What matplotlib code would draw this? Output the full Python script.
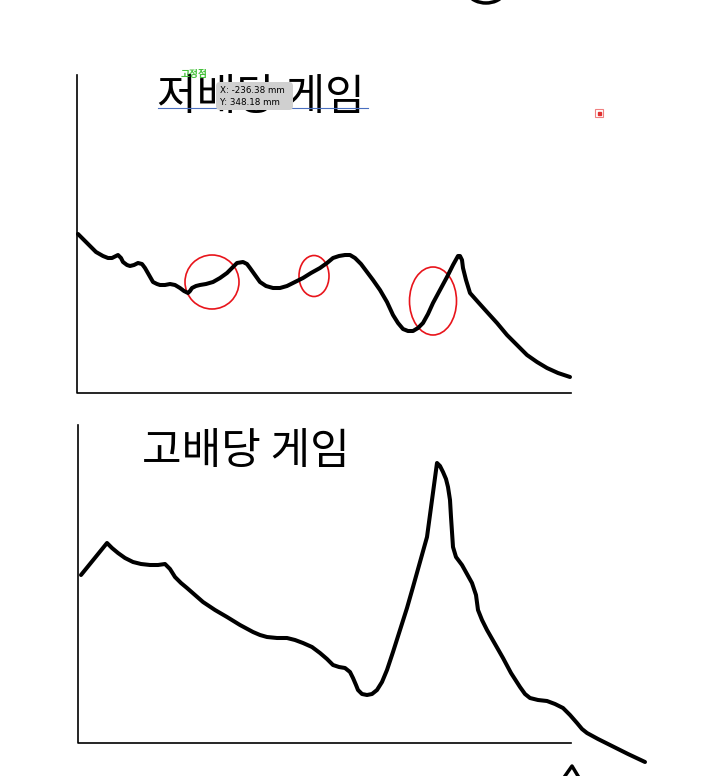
import matplotlib.pyplot as plt
import matplotlib.patches as mpatches
from matplotlib.patches import FancyBboxPatch

plt.rcParams['font.family'] = ['Noto Sans CJK KR', 'DejaVu Sans']

# traced sketch curves (pixel coords, y grows downward)
low_x = [78, 84, 90, 96, 103, 108, 112, 118, 121, 123, 127, 130, 134, 138, 142, 145,
         149, 153, 157, 160, 165, 170, 175, 180, 184, 188, 190, 192, 196, 200, 206,
         213, 220, 227, 232, 237, 243, 247, 250, 255, 260, 266, 273, 280, 287, 295,
         303, 311, 320, 327, 333, 339, 345, 350, 355, 361, 367, 373, 380, 387, 393,
         398, 403, 408, 413, 418, 423, 428, 433, 440, 447, 453, 458, 460, 462, 463,
         466, 470, 478, 487, 497, 507, 517, 527, 537, 547, 558, 570]
low_y = [234, 240, 246, 252, 256, 258, 258, 255, 258, 262, 265, 266, 265, 263, 264, 268,
         275, 282, 284, 285, 285, 284, 285, 288, 291, 293, 291, 288, 286, 285, 284,
         282, 278, 273, 268, 263, 262, 264, 268, 275, 282, 286, 288, 288, 286, 282,
         278, 273, 268, 263, 258, 256, 255, 255, 258, 264, 272, 280, 290, 302, 315,
         323, 329, 331, 331, 328, 323, 314, 303, 290, 277, 265, 256, 256, 260, 268,
         280, 293, 302, 312, 323, 335, 345, 355, 362, 368, 373, 377]

high_x = [81, 94, 107, 112, 118, 125, 133, 141, 150, 158, 165, 170, 175, 181, 187, 195,
          203, 215, 227, 240, 253, 260, 267, 277, 287, 295, 303, 312, 320, 327, 333,
          339, 345, 350, 353, 356, 358, 362, 367, 372, 377, 382, 387, 393, 400, 407,
          413, 420, 427, 432, 437, 440, 443, 446, 448, 450, 451, 452, 453, 456, 462,
          467, 472, 476, 478, 482, 487, 495, 503, 511, 520, 525, 530, 538, 547, 555,
          563, 570, 577, 582, 587, 598, 610, 628, 645]
high_y = [575, 559, 543, 548, 553, 558, 562, 564, 565, 565, 564, 569, 577, 583, 588, 595,
          602, 610, 617, 625, 632, 635, 637, 638, 638, 640, 643, 647, 653, 659, 665,
          667, 668, 672, 678, 685, 690, 694, 695, 694, 690, 682, 670, 652, 630, 608,
          587, 562, 537, 500, 463, 466, 472, 479, 487, 500, 517, 532, 547, 557, 565,
          574, 583, 595, 610, 620, 630, 644, 658, 673, 687, 694, 698, 700, 701, 704,
          708, 715, 723, 729, 733, 739, 745, 754, 762]

# red marker circles: (cx, cy, w, h)
marks = [(212, 282, 54, 54), (314, 276, 30, 41), (433, 301, 47, 68)]

title_low = "저배당 게임"
title_high = "고배당 게임"

fig = plt.figure(figsize=(7.21, 7.76), dpi=100)
ax = fig.add_axes([0, 0, 1, 1])
ax.set_xlim(0, 721)
ax.set_ylim(776, 0)
ax.axis("off")

# axes lines
ax.plot([77, 77, 571], [75, 393, 393], color="black", lw=1.2)
ax.plot([78, 78, 571], [425, 743, 743], color="black", lw=1.2)

# curves
ax.plot(low_x, low_y, color="black", lw=2.9, solid_capstyle="round", solid_joinstyle="round")
ax.plot(high_x, high_y, color="black", lw=2.9, solid_capstyle="round", solid_joinstyle="round")

for cx, cy, w, h in marks:
    ax.add_patch(mpatches.Ellipse((cx, cy), w, h, fill=False, edgecolor="#e8141b", lw=1.2))

# titles
ax.text(157, 110, title_low, fontsize=31, fontweight="light", color="black", va="baseline", zorder=2)
ax.plot([158, 368], [108, 108], color="#4a6fc0", lw=0.8, zorder=2)
ax.text(142, 464, title_high, fontsize=31, fontweight="light", color="black", va="baseline")

# editor overlay bits
ax.text(181, 77, "고정점", fontsize=7, fontweight="bold", color="#46c13c", va="baseline", zorder=5)
ax.add_patch(FancyBboxPatch((216, 82), 77, 28, boxstyle="round,pad=0,rounding_size=4",
                            facecolor="#d0d0d0", edgecolor="none", zorder=4))
ax.text(220, 93, "X: -236.38 mm", fontsize=6.3, color="black", va="baseline",
        family="DejaVu Sans", zorder=5)
ax.text(220, 105, "Y: 348.18 mm", fontsize=6.3, color="black", va="baseline",
        family="DejaVu Sans", zorder=5)
ax.add_patch(mpatches.Rectangle((595, 109), 8, 8, fill=False, edgecolor="#f08080", lw=0.8))
ax.add_patch(mpatches.Rectangle((597.5, 111.5), 3, 3, color="#e03030"))

# partially visible strokes at the edges
ax.add_patch(mpatches.Arc((486, -12), 40, 30, theta1=20, theta2=160, color="black", lw=2.5))
ax.plot([565, 572, 578], [776, 766, 776], color="black", lw=2.5)

fig.savefig("out.png", dpi=100)
